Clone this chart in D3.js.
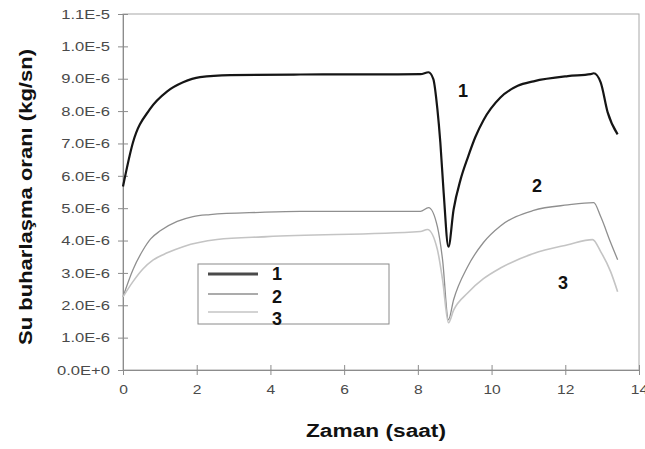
<!DOCTYPE html>
<html>
  <head>
    <meta charset="utf-8">
    <title>Su buharlasma orani</title>
    <script src="https://cdnjs.cloudflare.com/ajax/libs/d3/7.8.5/d3.min.js" charset="utf-8"></script>
    <style>
      body { margin: 0; background: #fff; }
      text { font-family: "Liberation Sans", Arial, sans-serif; }
    </style>
  </head>
  <body>
    <div id="chart"></div>
    <script>

// time (saat) and rate (x 1e-6 kg/sn) for each curve
var t1 = [0, 0.27, 0.73, 1.2, 1.63, 2.09, 2.91, 4.81, 8.07, 8.29, 8.42, 8.53, 8.61, 8.7, 8.83,
          8.97, 9.16, 9.35, 9.56, 9.78, 10.24, 10.71, 11.14, 12.07, 12.69, 12.77, 12.96, 13.15, 13.42];
var s1 = [5.67, 7.03, 8.06, 8.61, 8.89, 9.05, 9.11, 9.13, 9.14, 9.2, 8.99, 8.06, 7.03, 5.48, 3.81,
          4.96, 5.89, 6.55, 7.2, 7.72, 8.42, 8.78, 8.92, 9.08, 9.14, 9.17, 8.89, 7.96, 7.28];

var t2 = [0, 0.27, 0.54, 0.75, 1.01, 1.47, 1.9, 2.36, 3.72, 4.81, 8.07, 8.29, 8.53, 8.67, 8.83,
          8.97, 9.35, 9.78, 10.24, 11.14, 12.07, 12.77, 12.96, 13.23, 13.42];
var s2 = [2.26, 3.1, 3.7, 4.05, 4.3, 4.59, 4.74, 4.8, 4.87, 4.9, 4.9, 5.02, 4.43, 3.41, 1.55,
          2.17, 3.19, 3.94, 4.45, 4.93, 5.1, 5.17, 4.74, 3.94, 3.41];

var t3 = [0, 0.27, 0.54, 0.82, 1.2, 1.63, 2.55, 3.91, 8.07, 8.26, 8.53, 8.67, 8.83,
          8.97, 9.35, 9.78, 10.24, 11.14, 12.07, 12.74, 12.96, 13.23, 13.42];
var s3 = [2.26, 2.73, 3.12, 3.4, 3.62, 3.81, 4.03, 4.12, 4.28, 4.34, 3.72, 2.79, 1.46,
          1.85, 2.38, 2.82, 3.15, 3.6, 3.87, 4.03, 3.66, 3.04, 2.42];

var seriesNames = ["1", "2", "3"];
var xTicks = [0, 2, 4, 6, 8, 10, 12, 14];
var yTicks = [0, 1e-6, 2e-6, 3e-6, 4e-6, 5e-6, 6e-6, 7e-6, 8e-6, 9e-6, 1e-5, 1.1e-5];
var yTickLabels = ["0.0E+0", "1.0E-6", "2.0E-6", "3.0E-6", "4.0E-6", "5.0E-6",
                   "6.0E-6", "7.0E-6", "8.0E-6", "9.0E-6", "1.0E-5", "1.1E-5"];

var W = 645, H = 449;
var svg = d3.select("#chart").append("svg").attr("width", W).attr("height", H);

var x = d3.scaleLinear().domain([0, 14]).range([123, 639]);
var y = d3.scaleLinear().domain([0, 1.1e-5]).range([370, 14]);

// stretch text horizontally (the source text is wide)
function stretch(sel, f) {
    sel.each(function() {
        var w = this.getComputedTextLength();
        d3.select(this).attr("textLength", w * f).attr("lengthAdjust", "spacingAndGlyphs");
    });
}

// plot frame
svg.append("rect")
    .attr("x", x(0)).attr("y", y(1.1e-5))
    .attr("width", x(14) - x(0)).attr("height", y(0) - y(1.1e-5))
    .attr("fill", "none").attr("stroke", "#a8a8a8").attr("stroke-width", 1);

// axes
var yAxis = svg.append("g").attr("transform", "translate(" + x(0) + ",0)")
    .call(d3.axisLeft(y).tickValues(yTicks).tickSize(5)
          .tickFormat(function(d, i) { return yTickLabels[i]; }));
var xAxis = svg.append("g").attr("transform", "translate(0," + y(0) + ")")
    .call(d3.axisBottom(x).tickValues(xTicks).tickSize(5));

[yAxis, xAxis].forEach(function(a) {
    a.select(".domain").attr("stroke", "#8c8c8c");
    a.selectAll(".tick line").attr("stroke", "#8c8c8c");
    a.selectAll(".tick text").attr("fill", "#4a4a4a")
        .style("font-size", "12px");
});
yAxis.selectAll(".tick line").attr("x1", 5);
yAxis.selectAll(".tick text").attr("x", -13).attr("dy", "0.35em");
xAxis.selectAll(".tick line").attr("y1", -5);
xAxis.selectAll(".tick text").attr("y", 15);
stretch(yAxis.selectAll(".tick text"), 1.38);
stretch(xAxis.selectAll(".tick text"), 1.3);

// curves
var line = d3.line()
    .x(function(d) { return x(d[0]); })
    .y(function(d) { return y(d[1] * 1e-6); })
    .curve(d3.curveMonotoneX);

var series = [
    {t: t1, s: s1, color: "#151515", w: 2.2},
    {t: t2, s: s2, color: "#8f8f8f", w: 1.3},
    {t: t3, s: s3, color: "#c4c4c4", w: 1.6}
];

series.forEach(function(sr) {
    svg.append("path")
        .datum(d3.zip(sr.t, sr.s))
        .attr("fill", "none")
        .attr("stroke", sr.color)
        .attr("stroke-width", sr.w)
        .attr("stroke-linejoin", "round")
        .attr("d", line);
});

// labels next to the curves
var curveLabels = [[463, 97], [537, 192], [563, 289]];
svg.selectAll(".clabel").data(seriesNames).enter().append("text")
    .attr("class", "clabel")
    .attr("x", function(d, i) { return curveLabels[i][0]; })
    .attr("y", function(d, i) { return curveLabels[i][1]; })
    .attr("text-anchor", "middle")
    .style("font-size", "18px").style("font-weight", "bold")
    .attr("fill", "#111")
    .text(function(d) { return d; });

// legend
var lg = svg.append("g");
lg.append("rect").attr("x", 198).attr("y", 264).attr("width", 191).attr("height", 60)
    .attr("fill", "#fff").attr("stroke", "#8a8a8a").attr("stroke-width", 1);
var legY = [274, 294, 312];
var legText = [280, 303, 325];
series.forEach(function(sr, i) {
    lg.append("line").attr("x1", 208).attr("x2", 258)
        .attr("y1", legY[i]).attr("y2", legY[i])
        .attr("stroke", i == 0 ? "#4a4a4a" : sr.color)
        .attr("stroke-width", i == 0 ? 3 : 1.4);
    lg.append("text").attr("x", 277).attr("y", legText[i])
        .attr("text-anchor", "middle")
        .style("font-size", "18px").style("font-weight", "bold")
        .attr("fill", "#111")
        .text(seriesNames[i]);
});

// axis titles
svg.append("text").attr("x", 376).attr("y", 437)
    .attr("text-anchor", "middle")
    .style("font-size", "18px").style("font-weight", "bold")
    .attr("fill", "#111")
    .attr("textLength", 140).attr("lengthAdjust", "spacingAndGlyphs")
    .text("Zaman (saat)");

svg.append("text")
    .attr("transform", "translate(32,197) rotate(-90)")
    .attr("text-anchor", "middle")
    .style("font-size", "18px").style("font-weight", "bold")
    .attr("fill", "#111")
    .attr("textLength", 296).attr("lengthAdjust", "spacingAndGlyphs")
    .text("Su buharlaşma oranı (kg/sn)");

    </script>
  </body>
</html>
